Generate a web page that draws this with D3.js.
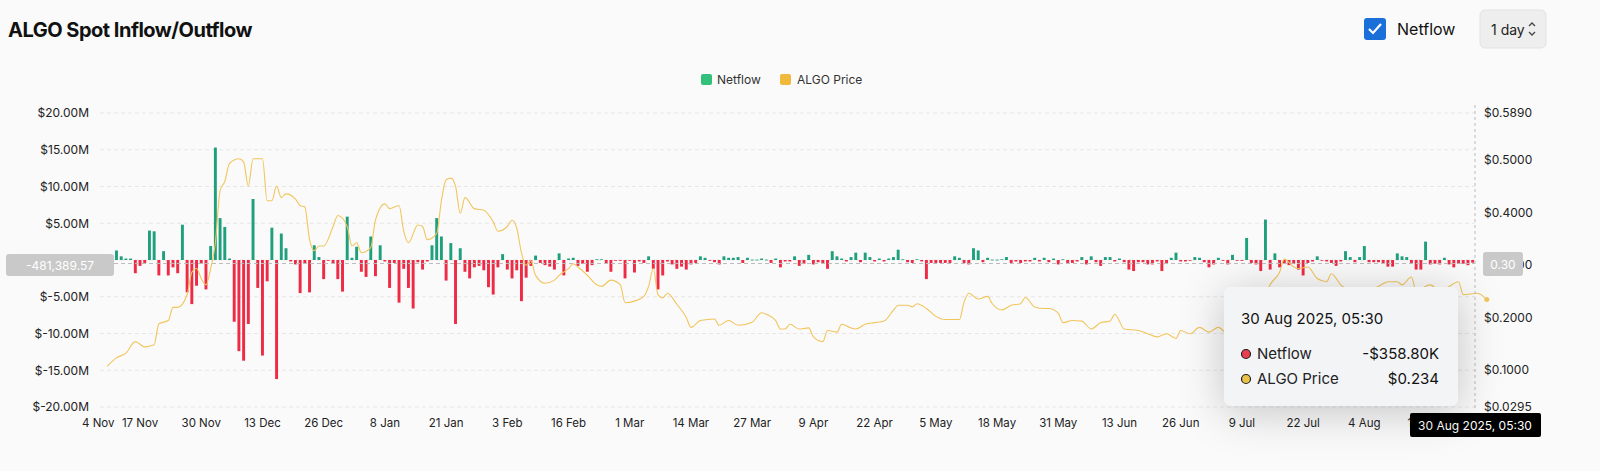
<!DOCTYPE html>
<html><head><meta charset="utf-8">
<script src="https://cdn.jsdelivr.net/npm/d3@7/dist/d3.min.js"></script>
<style>
body{margin:0;background:#fafafa;font-family:Inter,"Noto Sans",sans-serif;}
svg{display:block}
</style></head><body>
<svg id="c" width="1600" height="471"></svg>
<script>
// ---- data ----
const startDate = "2024-11-10";
const netflowM = [
-0.2,-0.2,1.3,0.5,0.2,0.2,-1.8,-0.8,-0.4,4.0,3.9,-2.1,1.2,-2.1,-1.0,-1.8,4.8,-4.4,-6.0,-3.5,-0.5,-4.0,1.9,15.3,5.7,4.5,0.2,-8.4,-12.4,-13.7,-8.7,8.3,-3.8,-13.0,-2.9,4.4,-16.2,3.6,1.6,-0.2,-0.6,-4.5,-0.5,-4.4,2.0,0.4,-2.6,-0.1,-0.5,-2.6,-4.3,5.9,0.3,1.8,-1.6,-2.3,3.2,-2.2,2.0,-0.2,-3.8,-0.4,-5.8,-1.2,-3.8,-6.6,-0.3,-1.3,-0.2,2.0,5.7,3.2,
-2.8,2.3,-8.7,1.6,-1.6,-2.5,-1.0,-0.8,-1.4,-3.7,-4.7,-1.0,0.8,-1.3,-2.5,-1.4,-5.6,-2.4,-0.8,0.6,-0.4,-0.7,-0.9,-1.3,0.9,-2.1,0.2,0.3,-0.8,-0.5,-1.6,-0.7,0.1,0.1,-0.4,-1.6,-0.1,-0.1,-2.5,-0.1,-1.7,-0.2,-0.4,0.5,-1.2,-4.0,-2.1,-0.2,-0.6,-1.2,-0.9,-1.3,-0.6,-0.4,0.5,0.3,-0.1,-0.3,-0.6,0.5,0.3,0.3,0.4,-0.4,0.3,0.05,0.05,0.2,0.05,-0.4,0.2,-1.0,-0.2,
-0.2,0.5,-0.8,-0.5,0.7,-0.6,-0.3,-0.4,-1.2,1.2,0.5,0.2,-0.2,0.4,1.0,-0.3,1.0,0.4,-0.2,0.2,-0.2,0.2,0.4,1.4,0.1,-0.3,-0.4,0.1,-0.2,-2.6,-0.4,-0.4,-0.4,-0.4,-0.4,0.5,0.3,-0.4,-0.6,1.6,1.3,-0.3,0.3,0.05,0.05,0.1,0.4,-0.4,-0.2,-0.4,-0.2,-0.2,0.3,-0.2,0.3,-0.3,0.2,-0.6,0.1,-0.4,-0.4,-0.2,0.4,-0.6,0.5,-0.3,-0.8,0.4,0.4,-0.2,0.2,-0.3,-1.3,
-1.5,-0.3,-0.3,-0.6,-0.6,-0.2,-1.5,-0.4,0.3,1.0,-0.2,-0.2,-0.1,0.4,0.3,-0.3,-1.0,-0.6,0.3,-0.1,-0.6,0.7,-0.1,-0.1,3.0,-0.4,-0.6,-1.5,5.5,-1.3,0.9,-1.0,-0.5,-0.7,-0.5,-1.3,-2.1,-0.4,-0.2,0.5,-0.1,-0.2,-0.4,-0.8,-0.2,1.2,0.4,-0.3,0.4,1.9,-0.3,-0.3,-0.3,-0.4,-0.9,-0.9,0.9,0.5,0.4,-0.4,-1.3,-1.3,2.5,-0.6,-0.5,-0.6,0.3,-0.6,-1.0,-0.5,-0.5,-0.7,-0.36
];
const priceDay = [0,2,4,6,8,10,11,13,14,15,17,18,19,20,21,22,23,24,25,26,28,29,30,31,33,34,35,36,37,38,40,41,42,43,44,45,46,48,49,51,52,53,54,56,57,59,60,62,63,64,66,67,68,70,71,72,
73,74,75,76,78,80,82,83,85,86,87,88,89,90,91,93,95,96,98,99,100,102,104,105,107,109,110,112,114,115,116,117,118,119,121,123,124,126,129,130,132,134,137,139,140,142,143,144,
145,147,149,150,152,153,155,156,158,159,161,163,165,167,168,170,171,172,174,176,178,181,182,183,185,187,188,190,192,194,195,197,199,200,202,203,205,207,209,211,213,214,216,
219,221,223,225,227,228,230,232,234,236,238,240,242,244,246,247,249,250,252,253,255,257,259,260,262,264,267,270,272,274,275,277,278,280,281,283,285,287,288,291,293];
const priceVal = [0.107,0.123,0.132,0.154,0.144,0.148,0.188,0.194,0.219,0.219,0.243,0.286,0.293,0.274,0.262,0.293,0.342,0.441,0.459,0.493,0.502,0.496,0.45,0.502,0.502,0.422,0.422,0.45,0.428,0.435,0.425,0.413,0.41,0.348,0.327,0.336,0.336,0.373,0.394,0.373,0.336,0.342,0.323,0.333,0.385,0.416,0.407,0.413,0.364,0.342,0.376,0.373,0.348,0.36,0.422,0.462,
0.465,0.45,0.398,0.428,0.407,0.404,0.382,0.364,0.373,0.385,0.37,0.323,0.299,0.308,0.28,0.265,0.271,0.28,0.293,0.302,0.296,0.28,0.262,0.259,0.271,0.262,0.228,0.231,0.24,0.259,0.293,0.243,0.237,0.246,0.225,0.2,0.181,0.194,0.197,0.185,0.194,0.185,0.191,0.209,0.206,0.194,0.178,0.178,
0.187,0.178,0.18,0.163,0.154,0.175,0.172,0.187,0.18,0.178,0.187,0.19,0.193,0.214,0.223,0.223,0.22,0.226,0.217,0.202,0.196,0.196,0.229,0.246,0.235,0.24,0.226,0.214,0.223,0.226,0.238,0.22,0.217,0.217,0.208,0.19,0.194,0.193,0.178,0.19,0.193,0.206,0.178,
0.175,0.169,0.163,0.169,0.16,0.175,0.169,0.181,0.172,0.181,0.169,0.175,0.187,0.2,0.24,0.262,0.286,0.311,0.296,0.293,0.296,0.274,0.268,0.283,0.262,0.25,0.25,0.259,0.268,0.268,0.262,0.277,0.25,0.259,0.262,0.25,0.259,0.268,0.243,0.246,0.234];
const leftTicks = [20,15,10,5,-5,-10,-15,-20];
const gridTicks = [20,15,10,5,0,-5,-10,-15,-20];
const rightTicks = [0.589,0.5,0.4,0.3,0.2,0.1,0.0295];
const xTickLabels = ["4 Nov","17 Nov","30 Nov","13 Dec","26 Dec","8 Jan","21 Jan","3 Feb","16 Feb","1 Mar","14 Mar","27 Mar","9 Apr","22 Apr","5 May","18 May","31 May","13 Jun","26 Jun","9 Jul","22 Jul","4 Aug","17 Aug"];
const xTickDates = ["2024-11-04","2024-11-17","2024-11-30","2024-12-13","2024-12-26","2025-01-08","2025-01-21","2025-02-03","2025-02-16","2025-03-01","2025-03-14","2025-03-27","2025-04-09","2025-04-22","2025-05-05","2025-05-18","2025-05-31","2025-06-13","2025-06-26","2025-07-09","2025-07-22","2025-08-04","2025-08-17"];

// ---- chart ----
const svg = d3.select("#c");
const L=100,R=1475,T=113,B=407;
const n = netflowM.length;
const parse = d3.utcParse("%Y-%m-%d");
const d0 = parse(startDate);
const dayMs = 864e5;
const x = d3.scaleLinear().domain([-1.5, n-0.5]).range([L,R]);
const y = d3.scaleLinear().domain([-20,20]).range([B,T]);
const yP = d3.scaleLinear().domain([0.0295,0.589]).range([B,T]);

svg.append("g").selectAll("line").data(gridTicks).join("line")
 .attr("x1",L).attr("x2",R).attr("y1",d=>y(d)).attr("y2",d=>y(d))
 .attr("stroke","#e6e6e6").attr("stroke-dasharray","4,3");
const fmtL = d=> "$"+d.toFixed(2)+"M";
svg.append("g").attr("transform",`translate(${L-8},0)`)
 .call(d3.axisLeft(y).tickValues(leftTicks).tickFormat(fmtL).tickSize(0))
 .call(g=>g.select(".domain").remove())
 .selectAll("text").attr("font-size",12).attr("fill","#222").attr("font-family","Inter,sans-serif");
svg.append("g").attr("transform",`translate(${R+6},0)`)
 .call(d3.axisRight(yP).tickValues(rightTicks).tickFormat(d=>"$"+d.toFixed(4)).tickSize(0))
 .call(g=>g.select(".domain").remove())
 .selectAll("text").attr("font-size",12).attr("fill","#222").attr("font-family","Inter,sans-serif");
const xi = s => (parse(s)-d0)/dayMs;
svg.append("g").selectAll("text").data(xTickLabels).join("text")
 .attr("x",(d,i)=>i===0 ? L-18 : x(xi(xTickDates[i])))
 .attr("y",427).attr("text-anchor",(d,i)=>i===0?"start":"middle").attr("font-size",11.5).attr("fill","#222").text(d=>d);

const bw = (x(1)-x(0))*0.62;
svg.append("g").selectAll("rect").data(netflowM).join("rect")
 .attr("x",(d,i)=>x(i)-bw/2).attr("width",bw)
 .attr("y",d=>y(Math.max(0,d))).attr("height",d=>Math.max(0.8,Math.abs(y(d)-y(0))))
 .attr("fill",d=>d>=0?"#1fa07d":"#ee2a45");
svg.append("line").attr("x1",L).attr("x2",R).attr("y1",y(-0.48)).attr("y2",y(-0.48))
 .attr("stroke","#bbb").attr("stroke-dasharray","4,3");
const line = d3.line().x((d,i)=>x(priceDay[i])).y(d=>yP(d)).curve(d3.curveMonotoneX);
svg.append("path").datum(priceVal).attr("d",line).attr("fill","none").attr("stroke","#f2c55c").attr("stroke-width",1.1);

svg.append("line").attr("x1",R).attr("x2",R).attr("y1",105).attr("y2",B+3).attr("stroke","#bbb").attr("stroke-dasharray","3,3");
svg.append("circle").attr("cx",x(priceDay[priceDay.length-1])).attr("cy",yP(priceVal[priceVal.length-1])).attr("r",2.5).attr("fill","#f2c55c");
svg.append("rect").attr("x",6).attr("y",254).attr("width",108).attr("height",22).attr("rx",3).attr("fill","#c9c9c9");
svg.append("text").attr("x",60).attr("y",269.5).attr("text-anchor","middle").attr("font-size",12).attr("fill","#fff").text("-481,389.57");
svg.append("rect").attr("x",R+8).attr("y",252).attr("width",40).attr("height",24).attr("rx",3).attr("fill","#c9c9c9");
svg.append("text").attr("x",R+28).attr("y",268.5).attr("text-anchor","middle").attr("font-size",12).attr("fill","#fff").text("0.30");
svg.append("rect").attr("x",1410).attr("y",413).attr("width",131).attr("height",24).attr("rx",2).attr("fill","#000");
svg.append("text").attr("x",1475).attr("y",429.5).attr("text-anchor","middle").attr("font-size",12).attr("fill","#fff").text("30 Aug 2025, 05:30");

const defs = svg.append("defs");
const f = defs.append("filter").attr("id","sh").attr("x","-50%").attr("y","-50%").attr("width","200%").attr("height","200%");
f.append("feDropShadow").attr("dx",0).attr("dy",6).attr("stdDeviation",22).attr("flood-color","#000").attr("flood-opacity",0.22);
const tt = svg.append("g").attr("transform","translate(1224,287)");
tt.append("rect").attr("width",234).attr("height",119).attr("rx",8).attr("fill","#f3f4f6").attr("filter","url(#sh)");
tt.append("text").attr("x",17).attr("y",37).attr("font-size",15).attr("fill","#111").text("30 Aug 2025, 05:30");
[[ "Netflow","-$358.80K","#e8404f"],["ALGO Price","$0.234","#e9c24a"]].forEach((r,i)=>{
 const yy=72+i*25;
 tt.append("circle").attr("cx",22).attr("cy",yy-5).attr("r",4.5).attr("fill",r[2]).attr("stroke","#222").attr("stroke-width",1.2);
 tt.append("text").attr("x",33).attr("y",yy).attr("font-size",15).attr("fill","#222").text(r[0]);
 tt.append("text").attr("x",215).attr("y",yy).attr("font-size",15).attr("fill","#111").attr("text-anchor","end").text(r[1]);
});

const lg = svg.append("g").attr("font-size",12).attr("fill","#333");
lg.append("rect").attr("x",701).attr("y",74).attr("width",11).attr("height",11).attr("rx",2).attr("fill","#33c07a");
lg.append("text").attr("x",717).attr("y",84).text("Netflow");
lg.append("rect").attr("x",780).attr("y",74).attr("width",11).attr("height",11).attr("rx",2).attr("fill","#f0b93b");
lg.append("text").attr("x",797).attr("y",84).text("ALGO Price");

svg.append("text").attr("x",8).attr("y",37).attr("font-size",20).attr("font-weight",700).attr("fill","#111").attr("letter-spacing","-0.5").text("ALGO Spot Inflow/Outflow");
svg.append("rect").attr("x",1364).attr("y",18).attr("width",22).attr("height",22).attr("rx",3).attr("fill","#1a6fd8");
svg.append("path").attr("d","M1369 29 l4 4 l8 -9").attr("stroke","#fff").attr("stroke-width",2.2).attr("fill","none");
svg.append("text").attr("x",1397).attr("y",35).attr("font-size",16).attr("fill","#111").text("Netflow");
svg.append("rect").attr("x",1480).attr("y",10).attr("width",66).attr("height",38).attr("rx",5).attr("fill","#eeeeee").attr("stroke","#e2e2e2");
svg.append("text").attr("x",1491).attr("y",35).attr("font-size",14).attr("fill","#222").text("1 day");
svg.append("path").attr("d","M1529 26 l3 -3 l3 3 M1529 32 l3 3 l3 -3").attr("stroke","#444").attr("stroke-width",1.3).attr("fill","none");
</script></body></html>
